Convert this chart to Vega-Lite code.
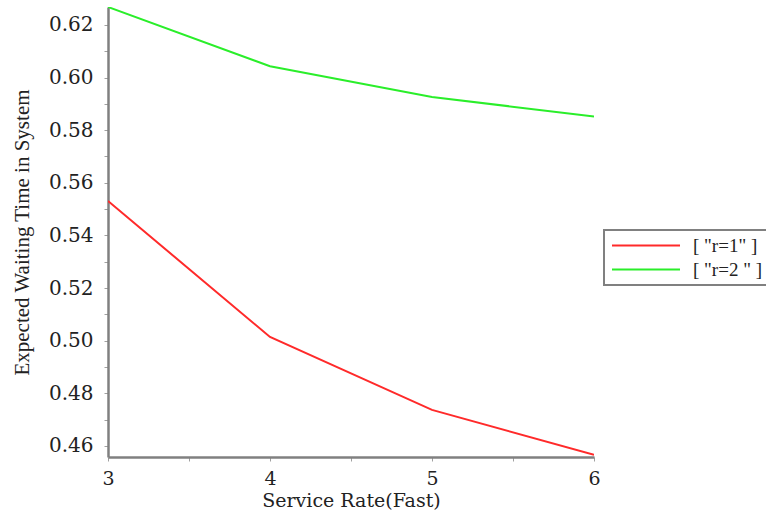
{
  "$schema": "https://vega.github.io/schema/vega-lite/v6.json",
  "width": 486,
  "height": 450,
  "autosize": {"type": "none"},
  "padding": {"left": 108, "top": 7, "right": 172, "bottom": 58},
  "background": "white",
  "config": {"view": {"stroke": null}},
  "data": {
    "values": [
      {"rate": 3, "value": 0.5531, "series": "[ \"r=1\" ]"},
      {"rate": 4, "value": 0.5014, "series": "[ \"r=1\" ]"},
      {"rate": 5, "value": 0.4737, "series": "[ \"r=1\" ]"},
      {"rate": 6, "value": 0.4566, "series": "[ \"r=1\" ]"},
      {"rate": 3, "value": 0.6268, "series": "[ \"r=2 \" ]"},
      {"rate": 4, "value": 0.6043, "series": "[ \"r=2 \" ]"},
      {"rate": 5, "value": 0.5926, "series": "[ \"r=2 \" ]"},
      {"rate": 6, "value": 0.5852, "series": "[ \"r=2 \" ]"}
    ]
  },
  "mark": {"type": "line", "strokeWidth": 2, "clip": true},
  "encoding": {
    "x": {
      "field": "rate",
      "type": "quantitative",
      "scale": {"domain": [3, 6], "nice": false, "zero": false},
      "axis": {
        "title": "Service Rate(Fast)",
        "values": [3, 3.5, 4, 4.5, 5, 5.5, 6],
        "labelExpr": "datum.value % 1 == 0 ? format(datum.value, 'd') : ''",
        "grid": false,
        "domainColor": "#808080",
        "domainWidth": 2.5,
        "tickColor": "#a0a0a0",
        "tickSize": 4,
        "tickWidth": 1,
        "labelFont": "DejaVu Serif",
        "labelFontSize": 19,
        "labelColor": "#222222",
        "labelPadding": 8,
        "labelFlush": false,
        "titleFont": "DejaVu Serif",
        "titleFontSize": 19,
        "titleFontWeight": "normal",
        "titleColor": "#222222",
        "titlePadding": 3
      }
    },
    "y": {
      "field": "value",
      "type": "quantitative",
      "scale": {"domain": [0.4558, 0.6268], "nice": false, "zero": false},
      "axis": {
        "title": "Expected Waiting Time in System",
        "values": [0.46, 0.47, 0.48, 0.49, 0.5, 0.51, 0.52, 0.53, 0.54, 0.55, 0.56, 0.57, 0.58, 0.59, 0.6, 0.61, 0.62],
        "labelExpr": "round(datum.value * 100) % 2 == 0 ? format(datum.value, '.2f') : ''",
        "grid": false,
        "domainColor": "#808080",
        "domainWidth": 2.5,
        "tickColor": "#a0a0a0",
        "tickSize": 4,
        "tickWidth": 1,
        "labelFont": "DejaVu Serif",
        "labelFontSize": 20,
        "labelColor": "#222222",
        "labelPadding": 11,
        "labelFlush": false,
        "titleFont": "Liberation Serif",
        "titleFontSize": 21,
        "titleFontWeight": "normal",
        "titleColor": "#222222",
        "titlePadding": 16
      }
    },
    "color": {
      "field": "series",
      "type": "nominal",
      "scale": {"domain": ["[ \"r=1\" ]", "[ \"r=2 \" ]"], "range": ["#ff2a2a", "#2aee2a"]},
      "legend": {
        "title": null,
        "orient": "none",
        "legendX": 496,
        "legendY": 223,
        "padding": 5,
        "strokeColor": "#808080",
        "symbolType": "stroke",
        "symbolSize": 4624,
        "symbolStrokeWidth": 2,
        "clipHeight": 21,
        "labelFont": "Liberation Serif",
        "labelFontSize": 19,
        "labelColor": "#222222",
        "labelOffset": 12,
        "rowPadding": 3,
        "symbolOffset": 2,
        "encode": {"legend": {"update": {"strokeWidth": {"value": 2}}}}
      }
    }
  }
}
